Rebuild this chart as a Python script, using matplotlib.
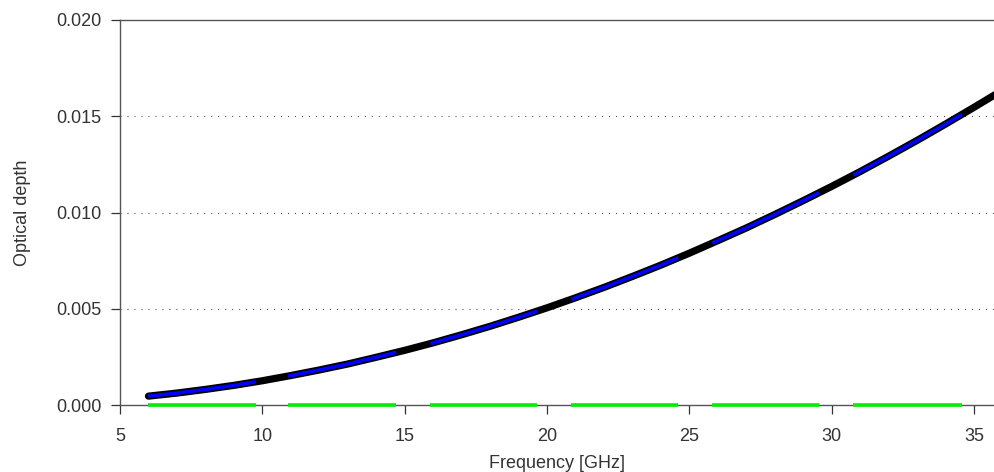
import numpy as np
import matplotlib.pyplot as plt

plt.rcParams['font.family'] = ['Liberation Sans', 'DejaVu Sans']

# optical depth vs frequency
freq = [6, 7, 8, 9, 10, 11, 12, 13, 14, 15, 16, 17, 18, 19, 20, 21,
        22, 23, 24, 25, 26, 27, 28, 29, 30, 31, 32, 33, 34, 35, 36]
tau = [0.00046, 0.00062, 0.00081, 0.00102, 0.00126, 0.00153, 0.00182,
       0.00213, 0.00248, 0.00284, 0.00323, 0.00365, 0.00409, 0.00456,
       0.00505, 0.00557, 0.00611, 0.00668, 0.00727, 0.00789, 0.00854,
       0.00920, 0.00990, 0.01062, 0.01136, 0.01213, 0.01293, 0.01375,
       0.01460, 0.01547, 0.01636]

# measured bands
band_start = [5.98, 10.9, 15.9, 20.85, 25.8, 30.75, 35.7]
band_end = [9.77, 14.7, 19.65, 24.6, 29.55, 34.56, 39.5]

fig = plt.figure(figsize=(9.95, 4.72), dpi=100)
ax = fig.add_axes([120 / 995, 1 - 405 / 472, 1 - 120 / 995, 385 / 472])

ax.plot(freq, tau, color='black', lw=5.2, solid_capstyle='round', zorder=3)
for a, b in zip(band_start, band_end):
    xs = [f for f in freq if a < f < b]
    seg_x = [a] + xs + [b]
    seg_y = np.interp(seg_x, freq, tau)
    ax.plot(seg_x, seg_y, color='#0000ff', lw=2.6, solid_capstyle='butt', zorder=4)
    ax.plot([a, b], [0, 0], color='#00ee00', lw=2.6, solid_capstyle='butt',
            zorder=5, clip_on=False)

ax.set_xlim(5, 35.73)
ax.set_ylim(0, 0.020)
ax.set_xticks([5, 10, 15, 20, 25, 30, 35])
ax.set_yticks([0, 0.005, 0.010, 0.015, 0.020])
ax.set_yticklabels(['0.000', '0.005', '0.010', '0.015', '0.020'])

for y in [0.005, 0.010, 0.015]:
    ax.axhline(y, color='#444444', lw=0.75, linestyle=(0, (1, 5.7)), zorder=1)

ax.spines['right'].set_visible(False)
for s in ['left', 'bottom', 'top']:
    ax.spines[s].set_color('#555555')
    ax.spines[s].set_linewidth(1.0)

ax.tick_params(direction='out', length=6.5, width=0.9, color='#333333',
               labelsize=13, labelcolor='#333333')
ax.tick_params(axis='x', pad=10)
ax.tick_params(axis='y', pad=7)
ax.set_xlabel('Frequency [GHz]', fontsize=13, color='#333333', labelpad=7)
ax.set_ylabel('Optical depth', fontsize=13, color='#333333', labelpad=18)

fig.savefig('out.png', dpi=100)
